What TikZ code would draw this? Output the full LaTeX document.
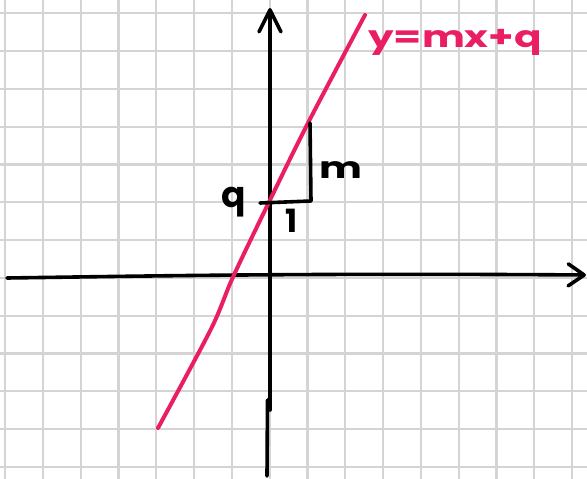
\documentclass[tikz,border=0pt]{standalone}
\usepackage{fontspec}
\newfontfamily\hand{Poppins}
\usetikzlibrary{arrows.meta}
\definecolor{gridgray}{RGB}{212,212,212}
\definecolor{pinkred}{RGB}{233,30,99}
\begin{document}
\begin{tikzpicture}[x=1pt,y=-1pt,
  gridline/.style={draw=gridgray,line width=2.2pt},
  axisline/.style={draw=black,line width=3.6pt,line cap=round,line join=round},
  redline/.style={draw=pinkred,line width=4pt,line cap=round,line join=round},
  handlabel/.style={inner sep=0pt,font=\hand\bfseries\fontsize{30}{30}\selectfont},
  tip/.style={-{Straight Barb[length=#1,width=22pt,round]}}]
\useasboundingbox (0,0) rectangle (587,479);
\fill[white] (0,0) rectangle (587,479);
% grid
\foreach \k in {0,...,15} \draw[gridline] ({5+37.8*\k},0) -- ({5+37.8*\k},479);
\foreach \k in {0,...,12} \draw[gridline] (0,{13.3+37.8*\k}) -- (587,{13.3+37.8*\k});
% axes
\coordinate (xl) at (7,278);
\coordinate (xr) at (586,275);
\coordinate (yt) at (270,8);
\coordinate (yk) at (270,410);
\coordinate (yk2) at (267.5,400);
\coordinate (yb) at (267,476);
\draw[axisline,tip=16pt] (xl) .. controls (150,276) and (300,273) .. (xr);
\draw[axisline,tip=22pt] (yk) -- (yt);
\draw[axisline] (yk2) -- (yb);
% line y = mx + q
\draw[redline] plot[smooth] coordinates {(158,428) (211,329) (233,277) (270,200) (308,123) (365,15)};
% slope triangle
\coordinate (A) at (260,203);
\coordinate (B) at (311,201);
\coordinate (C) at (310,123);
\draw[axisline] (A) -- (B) -- (C);
% labels
\node[handlabel,anchor=base,font=\hand\bfseries\fontsize{36}{36}\selectfont] (q) at (234,207) {q};
\node[handlabel,anchor=base,font=\hand\bfseries\fontsize{32}{32}\selectfont] (one) at (292,232) {1};
\node[handlabel,anchor=base,xscale=1.35] (m) at (341,178) {m};
\node[handlabel,anchor=base,text=pinkred,xscale=1.35] (eq) at (455,47) {y=mx+q};
\end{tikzpicture}
\end{document}
